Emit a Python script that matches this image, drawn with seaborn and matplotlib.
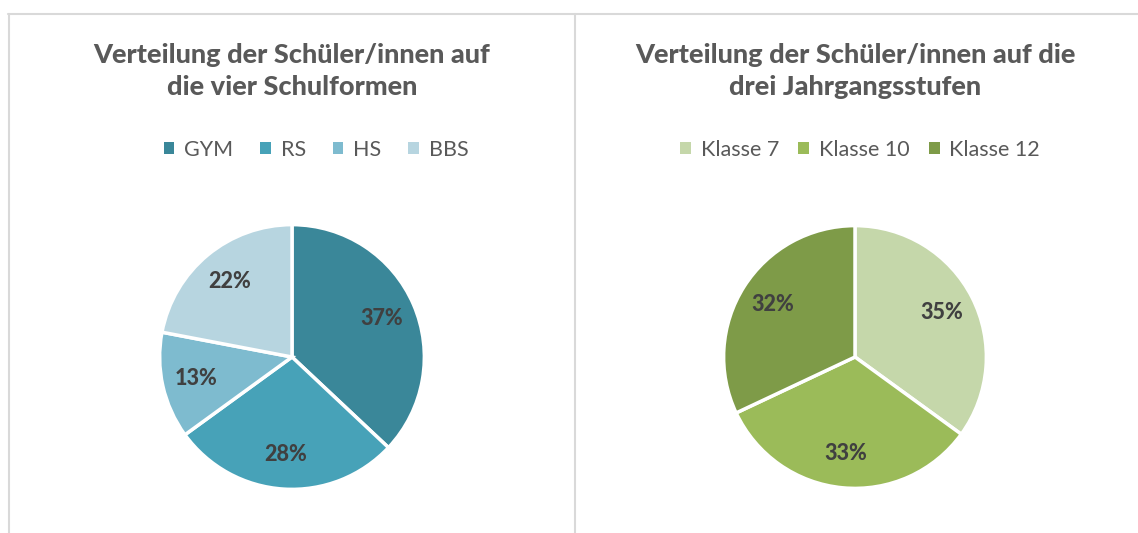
import matplotlib
matplotlib.use("Agg")
import matplotlib.pyplot as plt
from matplotlib.patches import Patch
from matplotlib.lines import Line2D
import seaborn as sns

# Daten
schulformen = ["GYM", "RS", "HS", "BBS"]
anteil_schulform = [37, 28, 13, 22]
farben_schulform = ["#3A8799", "#47A2B8", "#7EBBCF", "#B7D5E0"]

jahrgang = ["Klasse 7", "Klasse 10", "Klasse 12"]
anteil_jahrgang = [35, 33, 32]
farben_jahrgang = ["#C5D7AA", "#9BBB59", "#7E9B48"]

titel_links = "Verteilung der Schüler/innen auf\ndie vier Schulformen"
titel_rechts = "Verteilung der Schüler/innen auf die\ndrei Jahrgangsstufen"

sns.set_theme(style="white")
plt.rcParams["font.family"] = ["Lato", "DejaVu Sans"]

W, H = 1138, 533
fig = plt.figure(figsize=(W / 100, H / 100), dpi=100)


def px_axes(cx, cy, r):
    # Achse als Quadrat um den Mittelpunkt (Pixel, von oben gemessen)
    return fig.add_axes([(cx - r) / W, (H - cy - r) / H, 2 * r / W, 2 * r / H])


def zeichne_pie(cx, cy, r, werte, farben):
    ax = px_axes(cx, cy, r)
    wedges, texts, autotexts = ax.pie(
        werte, colors=farben, startangle=90, counterclock=False,
        autopct="%1.0f%%", pctdistance=0.74, radius=1,
        wedgeprops=dict(edgecolor="white", linewidth=2.5),
        textprops=dict(color="#404040", fontsize=15.5, fontweight="black"))
    ax.set_xlim(-1.02, 1.02)
    ax.set_ylim(-1.02, 1.02)
    ax.axis("off")
    return ax


zeichne_pie(292, 357, 135, anteil_schulform, farben_schulform)
zeichne_pie(855, 357, 134, anteil_jahrgang, farben_jahrgang)

# Titel
for x, t in [(292, titel_links), (855, titel_rechts)]:
    fig.text(x / W, 1 - 71 / H, t, ha="center", va="center", fontsize=19.5,
             fontweight="black", color="#595959", linespacing=1.38)

# Legenden
for x, namen, farben, spacing in [(316, schulformen, farben_schulform, 1.25),
                                  (860, jahrgang, farben_jahrgang, 0.9)]:
    handles = [Patch(facecolor=f, edgecolor="none") for f in farben]
    fig.legend(handles, namen, loc="center", bbox_to_anchor=(x / W, 1 - 150 / H),
               ncol=len(namen), frameon=False, fontsize=15.5,
               handlelength=0.5, handleheight=0.5, handletextpad=0.45,
               columnspacing=spacing, labelcolor="#595959")

# Rahmenlinien
rahmen = "#D9D9D9"
fig.add_artist(Line2D([8 / W, 1], [1 - 14 / H] * 2, color=rahmen, lw=1.5))
fig.add_artist(Line2D([9 / W] * 2, [0, 1 - 14 / H], color=rahmen, lw=1.5))
fig.add_artist(Line2D([575 / W] * 2, [0, 1 - 14 / H], color=rahmen, lw=1.5))

fig.savefig("out.png", dpi=100, facecolor="white")
